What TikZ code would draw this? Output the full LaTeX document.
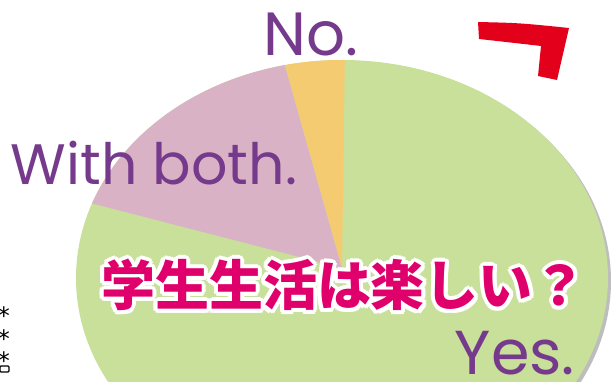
\documentclass[tikz,border=0pt]{standalone}
\usepackage{fontspec}
\newfontfamily\labelfont{Poppins}
\newfontfamily\jpfont{Noto Sans CJK JP}
\newfontfamily\symfont{DejaVu Sans}
\usetikzlibrary{calc}
\definecolor{yesgreen}{HTML}{C8E09A}
\definecolor{bothpink}{HTML}{D9B3C5}
\definecolor{noorange}{HTML}{F5CB72}
\definecolor{labelpurple}{HTML}{763A8C}
\definecolor{titlepink}{HTML}{E0006B}
\definecolor{markred}{HTML}{E2001A}
\definecolor{shadowgray}{HTML}{BDBDBD}

\begin{document}
\begin{tikzpicture}[x=1pt,y=-1pt,
  answer/.style={text=labelpurple, font=\labelfont\fontsize{#1}{#1}\selectfont, inner sep=0pt},
  question/.style={font=\jpfont\bfseries\fontsize{54}{54}\selectfont, inner sep=0pt},
  star/.style={font=\symfont\fontsize{24}{24}\selectfont, inner sep=0pt}]
  \useasboundingbox (0,0) rectangle (611,382);
  \clip (0,0) rectangle (611,382);
  \coordinate (ctr) at (342,278);
  \coordinate (hub) at (342,268);
  % pie with its shadow
  \fill[shadowgray] ($(ctr)+(3,3)$) ellipse [x radius=266pt, y radius=218pt];
  \fill[yesgreen] (ctr) ellipse [x radius=266pt, y radius=218pt];
  \fill[bothpink] (hub) -- ($(ctr)+(102.4:266pt and 218pt)$)
    arc [start angle=102.4, end angle=160, x radius=266pt, y radius=218pt] -- cycle;
  \fill[noorange] (hub) -- ($(ctr)+(89.4:266pt and 218pt)$)
    arc [start angle=89.4, end angle=102.4, x radius=266pt, y radius=218pt] -- cycle;
  % red corner mark
  \fill[markred] (478,22) .. controls (520,23) .. (569,28) -- (557,80) -- (538,76)
    -- (541,46) .. controls (515,43) .. (479,39) -- cycle;
  % answers
  \node[answer=61] (no) at (311,34) {No.};
  \node[answer=57] (both) at (154,163) {With both.};
  \node[answer=62] (yes) at (515,353) {Yes.};
  % question, white rim first
  \foreach \a in {0,30,...,330}
    \node[question, text=white] at ($(344,285)+(\a:4pt)$) {学生生活は楽しい？};
  \node[question, text=titlepink] (title) at (344,285) {学生生活は楽しい？};
  % cut-off marks at the left
  \foreach \y [count=\i] in {316,339,361}
    \node[star] (star\i) at (4,\y) {*};
  \draw[line width=1.2pt, rounded corners=1pt] (0,366) rectangle (9,372);
\end{tikzpicture}
\end{document}
